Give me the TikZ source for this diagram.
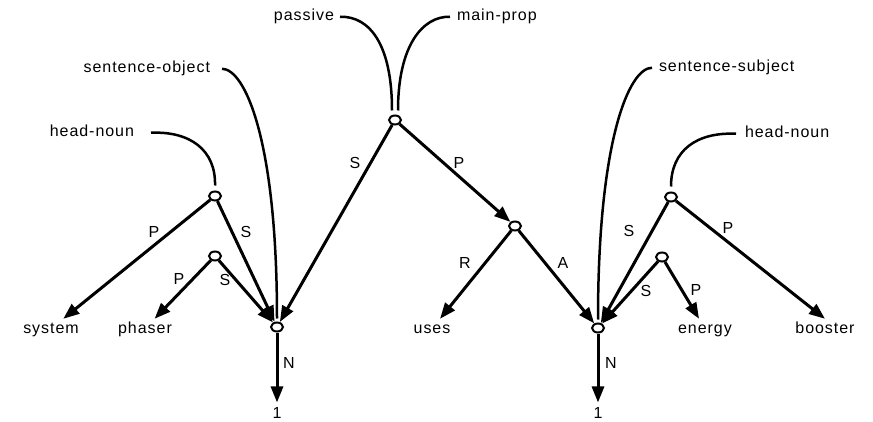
\documentclass[tikz,border=0pt]{standalone}
\usepackage{fontspec}
\setmainfont{Liberation Sans}[LetterSpace=6]
\usetikzlibrary{arrows.meta,shapes.geometric}
\begin{document}
\begin{tikzpicture}[x=1pt,y=-1pt,
  every node/.style={font=\fontsize{16}{19}\selectfont},
  knot/.style={ellipse,draw,line width=2pt,fill=white,minimum width=12pt,minimum height=9pt,inner sep=0pt},
  word/.style={anchor=base,inner sep=2pt,text height=12pt,text depth=3.5pt},
  head/.style={inner sep=0pt,outer sep=0pt,text height=12pt,text depth=3.5pt},
  lab/.style={inner sep=0pt},
  num/.style={inner sep=0pt,outer sep=5pt},
  arc/.style={line width=3pt,-{Triangle[length=16pt,width=12pt]}},
  feat/.style={line width=2.5pt},
]
\useasboundingbox (0,0) rectangle (873,422);

% feature labels
\node[head,anchor=base east] (passive) at (334,21) {passive};
\node[head,anchor=base west] (mainprop) at (457,21) {main-prop};
\node[head,anchor=base east] (sobj) at (210,73) {sentence-object};
\node[head,anchor=base east] (hnl) at (134,137) {head-noun};
\node[head,anchor=base west] (ssubj) at (659,72) {sentence-subject};
\node[head,anchor=base west] (hnr) at (745,138) {head-noun};

% words
\node[word] (system) at (51,333) {system};
\node[word] (phaser) at (145,333) {phaser};
\node[word] (uses) at (432,333) {uses};
\node[word] (energy) at (705,333) {energy};
\node[word] (booster) at (825,333) {booster};
\node[num] (one1) at (277,413) {1};
\node[num] (one2) at (598,413) {1};

% knots
\node[knot] (top) at (395,120) {};
\node[knot] (a) at (215,196) {};
\node[knot] (b) at (215,256) {};
\node[knot] (c) at (277,327) {};
\node[knot] (d) at (515,226) {};
\node[knot] (e) at (598,328) {};
\node[knot] (f) at (671,197) {};
\node[knot] (g) at (662,257) {};

% feature curves
\draw[feat] ([xshift=6pt]passive.east) .. controls (370,16) and (392,45) .. ([xshift=-3pt,yshift=4pt]top.north);
\draw[feat] ([xshift=-7pt]mainprop.west) .. controls (423,16) and (398,45) .. ([xshift=3pt,yshift=4pt]top.north);
\draw[feat] ([xshift=12pt]sobj.east) .. controls (245,69) and (277,140) .. ([yshift=3pt]c.north);
\draw[feat] ([xshift=17pt]hnl.east) .. controls (190,131) and (216,150) .. ([yshift=5pt]a.north);
\draw[feat] ([xshift=-9pt]hnr.west) .. controls (697,132) and (671,150) .. ([yshift=5pt]f.north);
\draw[feat] ([xshift=-7pt]ssubj.west) .. controls (629,68) and (598,140) .. ([yshift=3pt]e.north);

% arcs
\draw[arc] (top) -- (c);
\draw[arc] (top) -- (d);
\draw[arc] (a) -- (system);
\draw[arc] (a) -- (c);
\draw[arc] (b) -- (phaser);
\draw[arc] (b) -- (c);
\draw[arc] (c) -- (one1);
\draw[arc] (d) -- (uses);
\draw[arc] (d) -- (e);
\draw[arc] (f) -- (e);
\draw[arc] (f) -- (booster.north);
\draw[arc] (g) -- (e);
\draw[arc] (g) -- (energy);
\draw[arc] (e) -- (one2);

% arc labels
\node[lab] (lS1) at (355,163) {S};
\node[lab] (lP1) at (459,163) {P};
\node[lab] (lP2) at (154,232) {P};
\node[lab] (lS2) at (246,232) {S};
\node[lab] (lP3) at (179,279) {P};
\node[lab] (lS3) at (225,280) {S};
\node[lab] (lR) at (465,263) {R};
\node[lab] (lA) at (563,263) {A};
\node[lab] (lS4) at (629,231) {S};
\node[lab] (lP4) at (728,228) {P};
\node[lab] (lS5) at (646,291) {S};
\node[lab] (lP5) at (696,290) {P};
\node[lab] (lN1) at (289,363) {N};
\node[lab] (lN2) at (611,363) {N};
\end{tikzpicture}
\end{document}
